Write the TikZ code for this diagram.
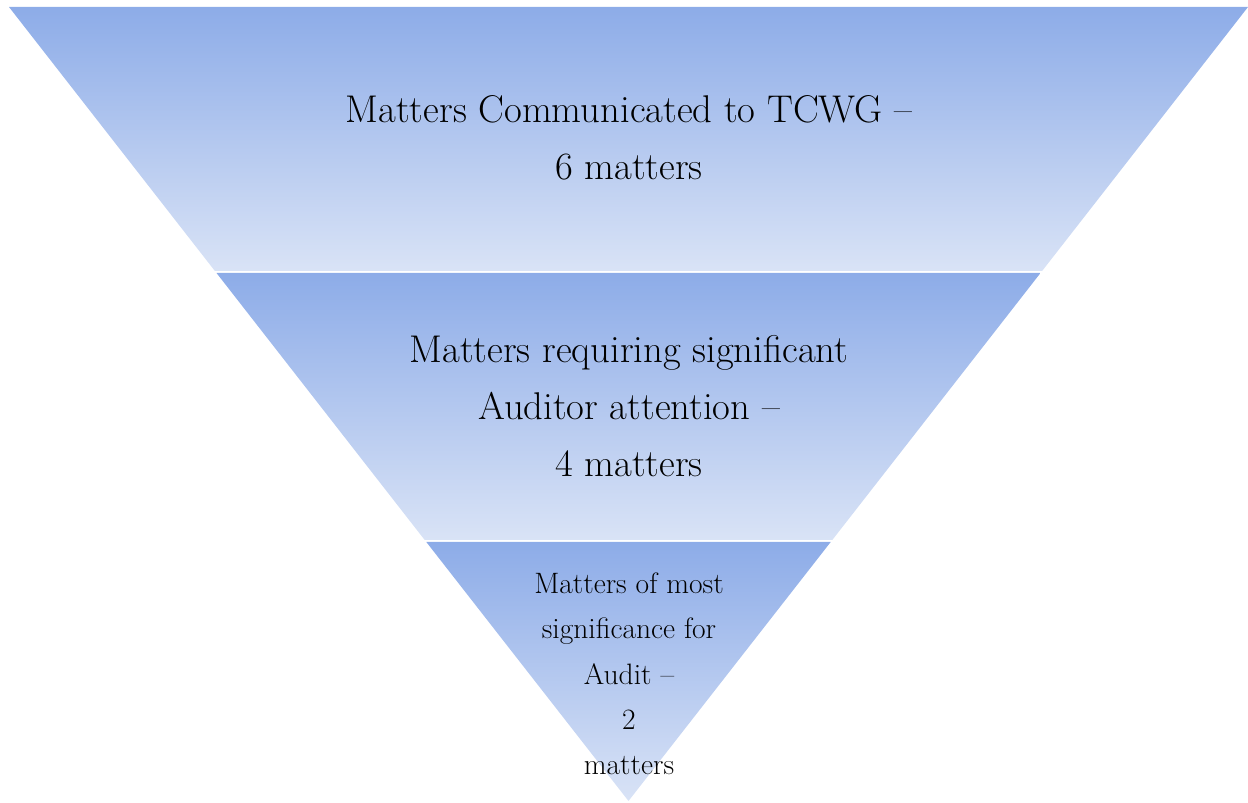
\documentclass[tikz,border=0pt]{standalone}
\usepackage{tikz}
\definecolor{bandtop}{HTML}{8DACE8}
\definecolor{bandbot}{HTML}{D9E3F6}
\tikzset{
  band/.style={top color=bandtop, bottom color=bandbot, draw=none},
  bigtext/.style={align=center, font=\fontsize{22}{32.3}\selectfont},
  smalltext/.style={align=center, font=\fontsize{16.8}{25.8}\selectfont}
}

\begin{document}
\begin{tikzpicture}[x=0.02cm, y=-0.02cm]
  \useasboundingbox (0,0) rectangle (1248,803);

  % three bands of the funnel
  \shade[band] (9,7) -- (1248,7) -- (1042.1,271) -- (214.9,271) -- cycle;
  \shade[band] (216.5,273) -- (1040.5,273) -- (832.3,540) -- (424.7,540) -- cycle;
  \shade[band] (426.3,542) -- (830.7,542) -- (628.5,801) -- cycle;

  % labels
  \node (tcwg)  at (629,138) [bigtext] {Matters Communicated to TCWG --\\6 matters};
  \node (sig)   at (629,406) [bigtext] {Matters requiring significant\\Auditor attention --\\4 matters};
  \node (audit) at (629,674) [smalltext] {Matters of most\\significance for\\Audit --\\2\\matters};
\end{tikzpicture}
\end{document}
